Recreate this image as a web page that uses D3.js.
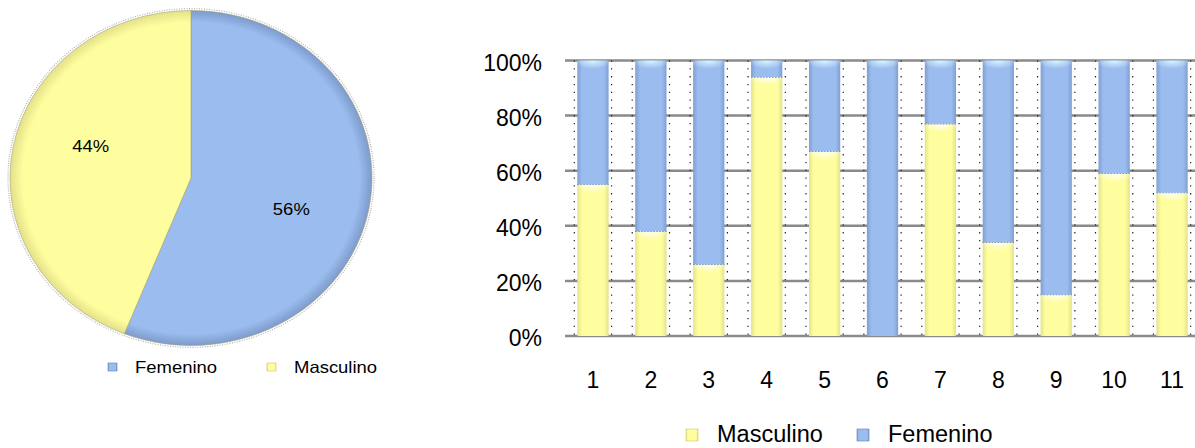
<!DOCTYPE html>
<html><head><meta charset="utf-8">
<script src="https://cdn.jsdelivr.net/npm/d3@7"></script>
<style>
html,body{margin:0;padding:0;background:#fff;}
svg{display:block;font-family:Arial,"Liberation Sans",sans-serif;}
</style></head>
<body>
<svg id="c" width="1195" height="448"></svg>
<script>
// ---------- data ----------
const pieLabels = ["Femenino", "Masculino"];
const pieValues = [56, 44];
const categories = ["1","2","3","4","5","6","7","8","9","10","11"];
const masculino = [55, 38, 26, 94, 67, 0, 77, 34, 15, 59, 52];
const femenino  = masculino.map(v => 100 - v);
const yTicks = [0, 20, 40, 60, 80, 100];
const barSeries = ["Masculino", "Femenino"];

const svg = d3.select("#c");
const defs = svg.append("defs");
const BLUE = "#9bbcef", YELLOW = "#fefe9e";

// gradients
function hGrad(id, edge, mid) {
  const g = defs.append("linearGradient").attr("id", id).attr("x1",0).attr("x2",1).attr("y1",0).attr("y2",0);
  g.append("stop").attr("offset","0%").attr("stop-color", edge);
  g.append("stop").attr("offset","15%").attr("stop-color", mid);
  g.append("stop").attr("offset","85%").attr("stop-color", mid);
  g.append("stop").attr("offset","100%").attr("stop-color", edge);
}
hGrad("gBlue", "#7f9fd2", BLUE);
hGrad("gYel", "#e4e28a", YELLOW);
function topGrad(id, col) {
  const g = defs.append("radialGradient").attr("id", id).attr("cx","50%").attr("cy","0%").attr("r","60%");
  g.append("stop").attr("offset","0%").attr("stop-color", col).attr("stop-opacity",0.95);
  g.append("stop").attr("offset","100%").attr("stop-color", col).attr("stop-opacity",0);
}
topGrad("hBlue", "#dffaff");
topGrad("hYel", "#ffffff");
function pieGrad(id, mid, edge) {
  const g = defs.append("radialGradient").attr("id", id).attr("gradientUnits","userSpaceOnUse")
    .attr("cx",0).attr("cy",0).attr("r",181);
  g.append("stop").attr("offset","0%").attr("stop-color", mid);
  g.append("stop").attr("offset","93%").attr("stop-color", mid);
  g.append("stop").attr("offset","100%").attr("stop-color", edge);
}
pieGrad("pBlue", BLUE, "#7d9bcc");
pieGrad("pYel", YELLOW, "#e3e08a");

// ---------- pie ----------
const pcx = 191, pcy = 178, R = 181, RY = 167.5;
const pieG = svg.append("g").attr("transform", `translate(${pcx},${pcy}) scale(1,${RY/R})`);
// shadow outline
pieG.append("circle").attr("r", R + 2).attr("fill", "none")
  .attr("stroke", "#9a9a9a").attr("stroke-width", 1.2).attr("stroke-dasharray", "1,1.5").attr("opacity", 0.8);
const pie = d3.pie().sort(null).value(d => d)(pieValues);
const arc = d3.arc().innerRadius(0).outerRadius(R);
const pieFill = ["url(#pBlue)", "url(#pYel)"];
pieG.selectAll("path.s").data(pie).join("path").attr("class","s")
  .attr("d", arc).attr("fill", (d,i) => pieFill[i])
  .attr("stroke", "#a09f70").attr("stroke-width", 0.6);
const angOff = 0.14;
const lblR = 106;
pie.forEach(d => {
  const a = (d.startAngle + d.endAngle) / 2 + angOff;
  const x = pcx + Math.sin(a) * lblR, y = pcy - Math.cos(a) * lblR * (RY / R);
  svg.append("text").attr("transform", `translate(${x},${y}) scale(1.12,1)`)
    .attr("text-anchor","middle").attr("dominant-baseline","central")
    .attr("font-size", 16.5).attr("fill", "#000")
    .text(Math.round(d.data) + "%");
});
// pie legend
const pieLeg = svg.append("g");
const pieLegX = [108, 267];
pieLabels.forEach((lab, i) => {
  pieLeg.append("rect").attr("x", pieLegX[i]).attr("y", 363).attr("width", 9).attr("height", 8)
    .attr("fill", i === 0 ? "url(#gBlue)" : "url(#gYel)").attr("stroke", i === 0 ? "#5f7fb0" : "#c8c67a").attr("stroke-width", 0.6);
  pieLeg.append("text").attr("transform", `translate(${pieLegX[i] + 27},373) scale(1.12,1)`)
    .attr("font-size", 16.5).attr("fill", "#000").text(lab);
});

// ---------- stacked bar chart ----------
const x = d3.scaleBand().domain(categories).range([564, 1201]).paddingInner(0.46).paddingOuter(0.23);
const y = d3.scaleLinear().domain([0, 100]).range([336, 60.5]);
const bw = x.bandwidth();

// gridlines
svg.append("g").selectAll("line").data(yTicks).join("line")
  .attr("x1", 565).attr("x2", 1195).attr("y1", d => y(d)).attr("y2", d => y(d))
  .attr("stroke", "#8a8a8a").attr("stroke-width", 2.5);

// vertical dotted lines around bars
const dots = svg.append("g");
categories.forEach(c => {
  [x(c) - 3, x(c) + bw + 3].forEach(xx => {
    dots.append("line").attr("x1", xx).attr("x2", xx).attr("y1", y(100)).attr("y2", y(0))
      .attr("stroke", "#222").attr("stroke-width", 1.2).attr("stroke-dasharray", "1.3,6.5");
  });
});

// bars
const stackData = categories.map((c, i) => ({cat: c, Masculino: masculino[i], Femenino: femenino[i]}));
const stack = d3.stack().keys(barSeries)(stackData);
const fills = {Masculino: "url(#gYel)", Femenino: "url(#gBlue)"};
const hl = {Masculino: "url(#hYel)", Femenino: "url(#hBlue)"};
stack.forEach(layer => {
  const g = svg.append("g");
  layer.forEach(d => {
    const h = y(d[0]) - y(d[1]);
    if (h <= 0) return;
    g.append("rect").attr("x", x(d.data.cat)).attr("y", y(d[1])).attr("width", bw).attr("height", h)
      .attr("fill", fills[layer.key]);
    g.append("rect").attr("x", x(d.data.cat)).attr("y", y(d[1])).attr("width", bw).attr("height", Math.min(14, h))
      .attr("fill", hl[layer.key]);
    if (layer.key === "Masculino" && d[1] < 100) {
      g.append("line").attr("x1", x(d.data.cat)).attr("x2", x(d.data.cat) + bw)
        .attr("y1", y(d[1])).attr("y2", y(d[1]))
        .attr("stroke", "#6e7f9a").attr("stroke-width", 1.2).attr("stroke-dasharray", "1.5,1.5");
    }
  });
});

// y axis labels
svg.append("g").selectAll("text").data(yTicks).join("text")
  .attr("x", 542).attr("y", d => y(d) + 2).attr("text-anchor", "end").attr("dominant-baseline", "central")
  .attr("font-size", 23).attr("fill", "#000").text(d => d + "%");
// x axis labels
svg.append("g").selectAll("text").data(categories).join("text")
  .attr("x", d => x(d) + bw / 2).attr("y", 380).attr("text-anchor", "middle").attr("dominant-baseline", "central")
  .attr("font-size", 23).attr("fill", "#000").text(d => d);

// bar legend
const barLegX = [686, 857];
barSeries.forEach((s, i) => {
  svg.append("rect").attr("x", barLegX[i]).attr("y", 429).attr("width", 12).attr("height", 12)
    .attr("fill", i === 0 ? "url(#gYel)" : "url(#gBlue)").attr("stroke", i === 0 ? "#c8c67a" : "#5f7fb0").attr("stroke-width", 0.6);
  svg.append("text").attr("x", barLegX[i] + 31).attr("y", 442).attr("font-size", 23.5).attr("fill", "#000").text(s);
});
</script>
</body></html>
